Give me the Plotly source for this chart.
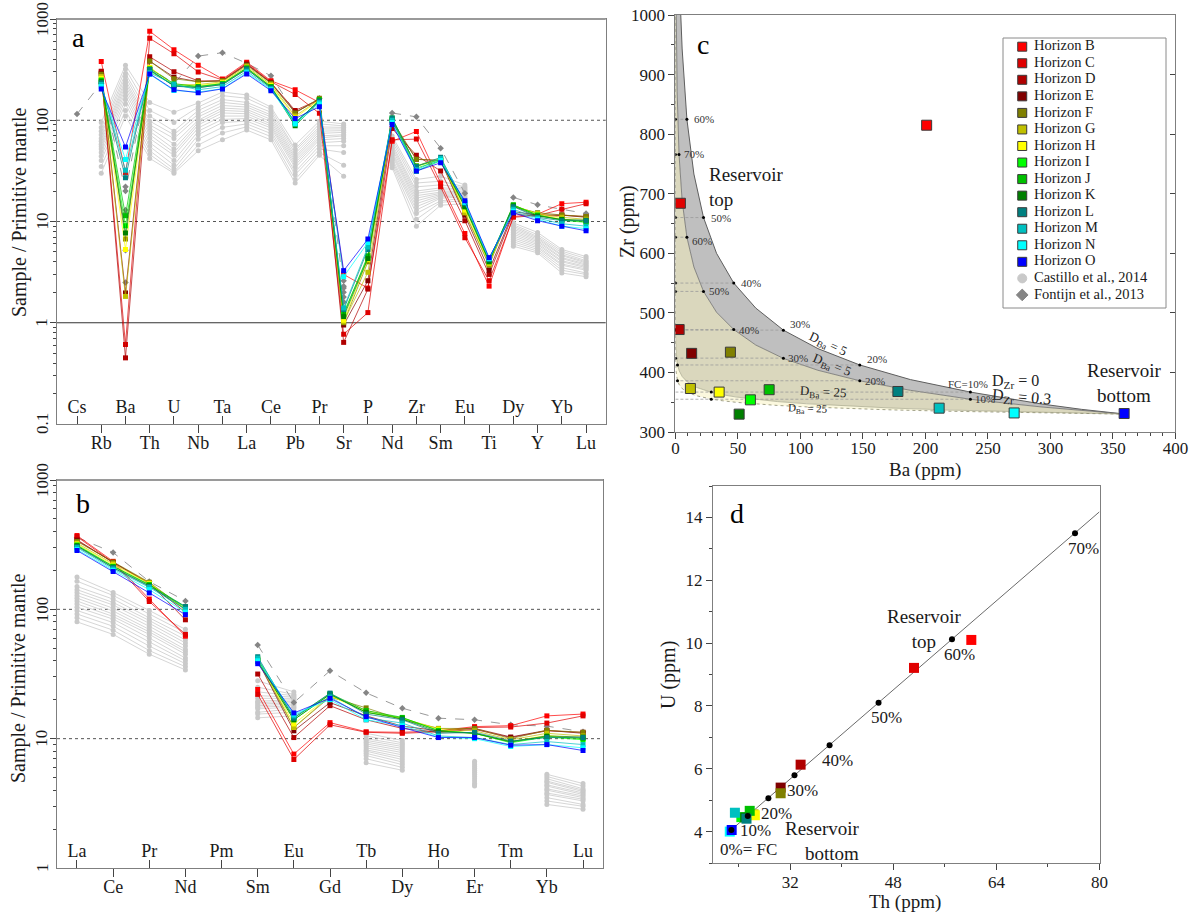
import math
import plotly.graph_objects as go

W, H = 1191, 912
SERIF = "Liberation Serif"
INK = "#1a1a1a"
AXIS_LINE = "#7f7f7f"
TICK_COL = "#444444"

# ---------------- element order of the spider diagrams ----------------
elements_a = ["Cs", "Rb", "Ba", "Th", "U", "Nb", "Ta", "La", "Ce", "Pb", "Pr",
              "Sr", "P", "Nd", "Zr", "Sm", "Eu", "Ti", "Dy", "Y", "Yb", "Lu"]
elements_b = ["La", "Ce", "Pr", "Nd", "Pm", "Sm", "Eu", "Gd", "Tb", "Dy", "Ho",
              "Er", "Tm", "Yb", "Lu"]
decades_a = [0.1, 1, 10, 100, 1000]
decades_b = [1, 10, 100, 1000]

horizon_names = ["Horizon " + h for h in "BCDEFGHIJKLMNO"]
horizon_colors = ["#FF0000", "#E00000", "#B00000", "#800000", "#808000", "#C0C000", "#FFFF00",
                  "#00FF00", "#00C000", "#008000", "#008080", "#00C0C0", "#00FFFF", "#0000FF"]

# ---------------- primitive-mantle normalised trace elements (panel a) ----------------
a_B = [None, 380, 30.5, 756, 498, 350, 255, 375, 245, 200, 150, 3.0, 2.2, 62, 77.6, 24, 7.6, 2.3, 11.2, 11.8, 15.0, 15.5]
a_C = [None, 300, 0.61, 644, 454, 300, 250, 365, 240, 180, 117, 0.77, 1.26, 64, 65.1, 22, 6.9, 2.6, 11.0, 11.5, 13.2, 15.0]
a_D = [None, 305, 0.45, 423, 302, 245, 245, 360, 235, 125, 160, 0.64, 2.15, 83, 45.0, 31.6, 10.2, 3.0, 12.0, 11.2, 11.5, 11.2]
a_E = [None, 290, 1.97, 384, 266, 240, 245, 355, 235, 120, 160, 0.95, 2.6, 95, 41.1, 40, 11.5, 3.3, 12.5, 11.6, 11.6, 11.0]
a_F = [None, 285, 6.7, 384, 257, 240, 245, 350, 232, 118, 165, 1.0, 4.0, 100, 41.3, 40, 12.2, 3.7, 14.0, 12.2, 11.6, 11.2]
a_G = [None, 270, 1.82, 331, 224, 225, 240, 340, 225, 110, 160, 1.02, 3.15, 100, 35.5, 42, 12.2, 3.8, 14.3, 12.0, 11.0, 10.5]
a_H = [None, 260, 5.3, 333, 223, 220, 235, 330, 220, 105, 160, 1.06, 4.2, 100, 35.0, 41, 13.0, 3.9, 14.4, 11.8, 10.6, 10.0]
a_I = [None, 250, 9.1, 307, 220, 215, 230, 325, 215, 95, 155, 1.25, 4.4, 103, 33.7, 40, 14.0, 4.0, 14.5, 11.6, 10.3, 9.8]
a_J = [None, 245, 11.4, 323, 230, 215, 230, 330, 215, 92, 160, 1.2, 4.6, 105, 35.3, 41, 14.5, 4.1, 14.6, 11.5, 10.4, 10.0]
a_K = [None, 240, 7.7, 314, 219, 210, 225, 320, 210, 88, 155, 1.15, 4.3, 100, 31.4, 40, 14.0, 4.0, 14.2, 11.3, 10.5, 10.3]
a_L = [None, 235, 27.0, 317, 217, 210, 225, 320, 210, 95, 155, 1.35, 5.3, 105, 35.0, 43, 15.0, 4.2, 14.0, 11.0, 10.2, 10.2]
a_M = [None, 225, 32.0, 294, 227, 200, 215, 305, 205, 95, 150, 1.4, 5.6, 100, 32.4, 42, 15.5, 4.3, 13.2, 10.8, 9.5, 9.0]
a_N = [None, 215, 41.0, 284, 197, 190, 205, 295, 200, 92, 145, 2.85, 6.2, 95, 31.6, 40, 15.5, 4.3, 12.6, 10.5, 9.0, 8.5]
a_O = [None, 204, 54.4, 287, 200, 187, 204, 287, 196, 104, 136, 3.27, 6.7, 91, 31.5, 38, 16.0, 4.4, 12.2, 10.2, 9.0, 8.1]
spider_a = [a_B, a_C, a_D, a_E, a_F, a_G, a_H, a_I, a_J, a_K, a_L, a_M, a_N, a_O]

# ---------------- primitive-mantle normalised REE (panel b) ----------------
b_B = [372, 235, 120, 62, None, 24, 7.6, 13.3, 11.3, 11.2, 11.5, 12.4, 12.6, 15.0, 15.5]
b_C = [365, 230, 115, 64, None, 22, 6.9, 12.8, 11.2, 11.0, 11.3, 12.2, 12.3, 13.2, 15.0]
b_D = [345, 230, 160, 83, None, 31.6, 10.2, 18.0, 14.0, 12.0, 11.2, 11.8, 10.2, 11.5, 11.2]
b_E = [340, 230, 158, 95, None, 40, 11.5, 19.0, 15.0, 12.5, 11.5, 12.0, 10.3, 11.6, 11.0]
b_F = [335, 232, 162, 100, None, 40, 12.2, 21.0, 17.3, 14.0, 12.0, 12.0, 10.0, 11.6, 11.2]
b_G = [325, 225, 160, 100, None, 42, 12.2, 21.5, 16.5, 14.3, 12.0, 11.5, 9.8, 11.0, 10.5]
b_H = [320, 220, 158, 100, None, 41, 13.0, 21.5, 16.0, 14.4, 11.8, 11.0, 9.5, 10.6, 10.0]
b_I = [315, 215, 155, 103, None, 40, 14.0, 22.0, 16.0, 14.5, 11.6, 11.0, 9.3, 10.3, 9.8]
b_J = [310, 215, 155, 105, None, 41, 14.5, 22.3, 16.5, 14.6, 11.5, 11.0, 9.4, 10.4, 10.0]
b_K = [310, 210, 152, 100, None, 40, 14.0, 22.0, 16.0, 14.2, 11.3, 11.0, 9.5, 10.5, 10.3]
b_L = [305, 210, 150, 105, None, 43, 14.4, 22.5, 15.5, 14.0, 11.0, 11.2, 9.6, 10.2, 10.2]
b_M = [300, 205, 148, 100, None, 42, 15.0, 21.0, 14.5, 13.2, 10.5, 10.2, 9.0, 9.5, 9.0]
b_N = [290, 200, 142, 95, None, 40, 15.5, 20.0, 14.0, 12.6, 10.3, 10.0, 8.7, 9.0, 8.5]
b_O = [285, 196, 134, 91, None, 38, 15.8, 20.5, 14.8, 12.2, 10.2, 10.2, 8.9, 9.0, 8.1]
spider_b = [b_B, b_C, b_D, b_E, b_F, b_G, b_H, b_I, b_J, b_K, b_L, b_M, b_N, b_O]

# ---------------- Castillo et al. (2014), one value per sample ----------------
cas_Rb = [95, 85, 78, 72, 66, 62, 58, 55, 52, 48, 44, 40, 35, 30]
cas_Ba = [350, 320, 290, 270, 250, 235, 220, 205, 190, 175, 160, 145, 125, 110]
cas_Th = [150, 125, 110, 98, 90, 84, 78, 72, 66, 60, 55, 50, 46, 42]
cas_U = [120, 95, 78, 72, 66, 58, 52, 48, 45, 40, 36, 33, 31, 30]
cas_Nb = [148, 135, 125, 115, 108, 100, 95, 90, 84, 78, 72, 65, 57, 50]
cas_Ta = [190, 175, 160, 150, 140, 132, 125, 118, 110, 102, 95, 85, 75, 64]
cas_La = [178, 165, 150, 142, 135, 128, 122, 116, 110, 104, 98, 92, 86, 80]
cas_Ce = [135, 128, 120, 113, 108, 102, 97, 92, 88, 84, 79, 74, 69, 64]
cas_Pb = [57, 52, 50, 47, 44, 42, 40, 38, 36, 34, 31, 29, 26, 24]
cas_Pr = [98, 92, 86, 82, 78, 74, 70, 67, 64, 60, 56, 52, 48, 45]
cas_Sr = [92, 88, 85, 82, 79, 76, 72, 70, 66, 62, 56, 48, 36, 28]
cas_Nd = [70, 66, 62, 58, 55, 52, 49, 47, 45, 42, 40, 38, 36, 34]
cas_Zr = [26, 24, 22, 20, 19, 18, 17, 16, 15, 14, 13, 12, 10.5, 9]
cas_Sm = [28, 25, 23, 21.5, 20.5, 19.5, 19, 18.5, 18, 17.5, 17, 16, 15.5, 14.5]
cas_Eu = [23, 22, 21.5, 21, 20.5, 20, 19.5, 19, 18.5, 18, 17.5, 17, 16, 15]
cas_Tb = [11, 10.5, 10, 9.7, 9.4, 9.1, 8.8, 8.5, 8.2, 8.0, 7.7, 7.4, 7.0, 6.5]
cas_Dy = [9.7, 9.3, 9.0, 8.7, 8.4, 8.1, 7.8, 7.5, 7.2, 6.9, 6.6, 6.3, 6.0, 5.7]
cas_Y = [7.8, 7.4, 7.1, 6.9, 6.7, 6.5, 6.3, 6.1, 5.9, 5.7, 5.5, 5.3, 5.1, 4.9]
cas_Er = [6.7, 6.5, 6.3, 6.1, 5.9, 5.7, 5.5, 5.3, 5.1, 4.9, 4.7, 4.5, 4.4, 4.3]
cas_Yb = [5.3, 5.1, 4.9, 4.7, 4.6, 4.4, 4.3, 4.1, 4.0, 3.8, 3.7, 3.5, 3.3, 3.1]
cas_Lu = [4.5, 4.3, 4.1, 4.0, 3.9, 3.8, 3.7, 3.6, 3.5, 3.4, 3.3, 3.1, 3.0, 2.85]

# ---------------- Fontijn et al. (2013) ----------------
fon_a = [115, 232, 20, 330, 230, 430, 465, 365, 275, 118, 165, 2.2, None, 118, 108, 53, 19, None, 17.3, 14.6, 13.2, 12.0]
fon_b = [360, 275, 164, 116, None, 53, 19, 33.5, 22.6, 17.2, 14.4, 14.0, 12.8, 12.5, 11.3]
# further Fontijn et al. analyses with Ba and Sr only
fon_extra_Ba = [22, 13, 12, 5.2, 2.5]
fon_extra_Sr = [2.6, 2.3, 2.0, 1.8, 1.6]

# ---------------- panel c: Ba vs Zr (ppm) ----------------
ba_ppm = [201, 4, 3, 13, 44, 12, 35, 60, 75, 51, 178, 211, 271, 359]
zr_ppm = [815, 684, 472, 432, 434, 373, 367, 354, 371, 330, 368, 340, 332, 331]

# fractional crystallisation paths from the reservoir bottom
fc_pct = [10, 20, 30, 40, 50, 60, 70]
lvl_ba_d5 = [236, 147.5, 86.4, 46.7, 22.5, 9.2, 2.9]
lvl_ba_d25 = [28.7, 1.7, 0.07, 0.0, 0.0, 0.0, 0.0]
lvl_zr_d0 = [367, 412.5, 471, 550, 660, 825, 1100]
lvl_zr_d03 = [355, 386, 424, 472, 536, 627, 766]

path_d5_zr0_ba = [360, 325, 293, 264, 236, 188, 147.5, 114, 86.4, 64.3, 46.7, 32.9, 22.5, 14.8, 9.2, 5.4, 4.3]
path_d5_zr0_zr = [330, 338, 347, 357, 367, 388, 412.5, 440, 471, 508, 550, 600, 660, 733, 825, 943, 1000]
path_d5_zr03_ba = [360, 325, 293, 264, 236, 188, 147.5, 114, 86.4, 64.3, 46.7, 32.9, 22.5, 14.8, 9.2, 5.4, 2.9, 1.4, 0.6]
path_d5_zr03_zr = [330, 336, 342, 348.5, 355, 370, 386, 403.6, 423.6, 446, 472, 501, 536, 577, 627, 688, 766, 871, 1018]
path_d25_zr0_ba = [360, 283, 222, 173, 135, 105, 81.5, 63, 48.7, 37.4, 28.7, 16.7, 9.6, 5.5, 3.1, 1.7, 0.36, 0.07, 0, 0]
path_d25_zr0_zr = [330, 333.3, 336.7, 340.2, 343.8, 347.4, 351.1, 354.8, 358.7, 362.6, 366.7, 375, 383.7,
                   392.9, 402.4, 412.5, 440, 471, 660, 1000]
path_d25_zr03_ba = [360, 283, 222, 173, 135, 105, 81.5, 63, 48.7, 37.4, 28.7, 16.7, 9.6, 5.5, 3.1, 1.7, 0.36, 0.07, 0, 0]
path_d25_zr03_zr = [330, 332.3, 334.7, 337.1, 339.6, 342.1, 344.6, 347.2, 349.8, 352.5, 355.2, 360.9, 366.7,
                    372.8, 379.2, 385.8, 403.6, 423.6, 536, 1018]

# ---------------- panel d: Th vs U (ppm) ----------------
th_ppm = [60.1, 51.2, 33.6, 30.5, 30.5, 26.3, 26.5, 24.4, 25.7, 25.0, 25.2, 23.4, 22.6, 22.9]
u_ppm = [10.1, 9.21, 6.13, 5.4, 5.22, 4.55, 4.52, 4.46, 4.66, 4.45, 4.41, 4.6, 4.0, 4.05]
model_th = [22.85, 25.4, 28.6, 32.65, 38.1, 45.7, 57.1, 76.2]
model_u = [4.05, 4.5, 5.06, 5.79, 6.75, 8.1, 10.12, 13.5]
model_labels = ["0%= FC", "10%", "20%", "30%", "40%", "50%", "60%", "70%"]
trend_th = [22.3, 80.0]
trend_u = [3.96, 14.18]


def px_x(p):
    return p / W


def px_y(p):
    return 1 - p / H


def rgba(hex_col, a):
    h = hex_col.lstrip("#")
    return "rgba(%d,%d,%d,%.2f)" % (int(h[0:2], 16), int(h[2:4], 16), int(h[4:6], 16), a)


def tfont(size, color=INK):
    return dict(family=SERIF, size=size, color=color)


fig = go.Figure()

# ================= spider diagrams (a, b) =================
cas_rows_a = []
cas_rows_b = []
for i in range(len(cas_Rb)):
    cas_rows_a.append([None, cas_Rb[i], cas_Ba[i], cas_Th[i], cas_U[i], cas_Nb[i], cas_Ta[i], cas_La[i],
                       cas_Ce[i], cas_Pb[i], cas_Pr[i], cas_Sr[i], None, cas_Nd[i], cas_Zr[i], cas_Sm[i],
                       cas_Eu[i], None, cas_Dy[i], cas_Y[i], cas_Yb[i], cas_Lu[i]])
    cas_rows_b.append([cas_La[i], cas_Ce[i], cas_Pr[i], cas_Nd[i], None, cas_Sm[i], cas_Eu[i], None,
                       cas_Tb[i], cas_Dy[i], None, cas_Er[i], None, cas_Yb[i], cas_Lu[i]])

for rows, fon, elements, xa, ya in [(cas_rows_a, fon_a, elements_a, "x", "y"),
                                    (cas_rows_b, fon_b, elements_b, "x3", "y3")]:
    idx = list(range(len(elements)))
    for row in rows:
        fig.add_trace(go.Scatter(x=idx, y=row, mode="lines+markers", xaxis=xa, yaxis=ya,
                                 line=dict(color="#d6d6d6", width=1),
                                 marker=dict(symbol="circle", size=5, color="#c9c9c9"),
                                 connectgaps=False, showlegend=False, hoverinfo="skip"))
    fig.add_trace(go.Scatter(x=idx, y=fon, mode="lines+markers", xaxis=xa, yaxis=ya,
                             line=dict(color="#9a9a9a", width=1, dash="dash"),
                             marker=dict(symbol="diamond", size=5, color="#858585"),
                             connectgaps=False, showlegend=False, hoverinfo="skip"))

i_ba = elements_a.index("Ba")
i_sr = elements_a.index("Sr")
fig.add_trace(go.Scatter(x=[i_ba] * len(fon_extra_Ba) + [i_sr] * len(fon_extra_Sr),
                         y=fon_extra_Ba + fon_extra_Sr, mode="markers", xaxis="x", yaxis="y",
                         marker=dict(symbol="diamond", size=5, color="#858585"),
                         showlegend=False, hoverinfo="skip"))

for spider, elements, xa, ya in [(spider_a, elements_a, "x", "y"), (spider_b, elements_b, "x3", "y3")]:
    idx = list(range(len(elements)))
    for vals, col, name in zip(spider, horizon_colors, horizon_names):
        fig.add_trace(go.Scatter(x=idx, y=vals, mode="lines+markers", xaxis=xa, yaxis=ya, name=name,
                                 line=dict(color=rgba(col, 0.7), width=1),
                                 marker=dict(symbol="square", size=5, color=col),
                                 connectgaps=False, showlegend=False))

# empty traces so the overlay axes are bound to a subplot
fig.add_trace(go.Scatter(x=[None], y=[None], xaxis="x2", yaxis="y", showlegend=False))
fig.add_trace(go.Scatter(x=[None], y=[None], xaxis="x4", yaxis="y3", showlegend=False))

# ================= panel c =================
fills = [
    (path_d5_zr0_ba + path_d5_zr03_ba[::-1], path_d5_zr0_zr + path_d5_zr03_zr[::-1], "#bfbfbf"),
    (path_d5_zr03_ba + path_d25_zr0_ba[::-1], path_d5_zr03_zr + path_d25_zr0_zr[::-1], "#dad7bd"),
    (path_d25_zr0_ba + path_d25_zr03_ba[::-1], path_d25_zr0_zr + path_d25_zr03_zr[::-1], "#fbf8de"),
]
for fx, fy, col in fills:
    fig.add_trace(go.Scatter(x=fx, y=fy, mode="lines", fill="toself", fillcolor=col,
                             line=dict(width=0), xaxis="x5", yaxis="y5", showlegend=False,
                             hoverinfo="skip"))

for bx, bz, col, wd, dash in [(path_d5_zr0_ba, path_d5_zr0_zr, "#5e5e5e", 1.0, "solid"),
                              (path_d5_zr03_ba, path_d5_zr03_zr, "#6e6e6e", 0.8, "solid"),
                              (path_d25_zr0_ba, path_d25_zr0_zr, "#a5a58a", 0.7, "solid"),
                              (path_d25_zr03_ba, path_d25_zr03_zr, "#8a8a70", 0.8, "dot")]:
    fig.add_trace(go.Scatter(x=bx, y=bz, mode="lines", line=dict(color=col, width=wd, dash=dash),
                             xaxis="x5", yaxis="y5", showlegend=False, hoverinfo="skip"))

# dashed iso-crystallisation lines and their nodes
for k in range(len(fc_pct)):
    for zr in (lvl_zr_d0[k], lvl_zr_d03[k]):
        fig.add_trace(go.Scatter(x=[0, lvl_ba_d5[k]], y=[zr, zr], mode="lines",
                                 line=dict(color="#9a9a9a", width=0.8, dash="3px,2px"),
                                 xaxis="x5", yaxis="y5", showlegend=False, hoverinfo="skip"))
node_x = lvl_ba_d5 + lvl_ba_d5 + lvl_ba_d25 + lvl_ba_d25
node_y = lvl_zr_d0 + lvl_zr_d03 + lvl_zr_d0 + lvl_zr_d03
fig.add_trace(go.Scatter(x=node_x, y=node_y, mode="markers", marker=dict(color="black", size=3),
                         xaxis="x5", yaxis="y5", showlegend=False, cliponaxis=True))

fig.add_trace(go.Scatter(x=ba_ppm, y=zr_ppm, mode="markers", xaxis="x5", yaxis="y5",
                         marker=dict(symbol="square", size=10, color=horizon_colors,
                                     line=dict(color="#3a3a3a", width=1)),
                         text=horizon_names, showlegend=False))
fig.add_trace(go.Scatter(x=[None], y=[None], xaxis="x5", yaxis="y8", showlegend=False))

# ================= panel d =================
fig.add_trace(go.Scatter(x=trend_th, y=trend_u, mode="lines", line=dict(color="#6a6a6a", width=1),
                         xaxis="x6", yaxis="y6", showlegend=False, hoverinfo="skip"))
fig.add_trace(go.Scatter(x=th_ppm, y=u_ppm, mode="markers", xaxis="x6", yaxis="y6",
                         marker=dict(symbol="square", size=10, color=horizon_colors, line=dict(width=0)),
                         text=horizon_names, showlegend=False))
fig.add_trace(go.Scatter(x=model_th, y=model_u, mode="markers", xaxis="x6", yaxis="y6",
                         marker=dict(color="black", size=6), showlegend=False))

# ================= legend (inside panel c) =================
legend_labels = horizon_names + ["Castillo et al., 2014", "Fontijn et al., 2013"]
legend_symbols = ["square"] * len(horizon_names) + ["circle", "diamond"]
legend_colors = horizon_colors + ["#c9c9c9", "#858585"]
legend_lines = ["#3a3a3a"] * len(horizon_names) + ["#c9c9c9", "#858585"]
legend_rows = list(range(len(legend_labels)))
fig.add_trace(go.Scatter(x=[0.118] * len(legend_rows), y=legend_rows, mode="markers",
                         xaxis="x7", yaxis="y7", showlegend=False, hoverinfo="skip",
                         marker=dict(symbol=legend_symbols, size=9, color=legend_colors,
                                     line=dict(color=legend_lines, width=1))))
fig.add_trace(go.Scatter(x=[0.19] * len(legend_rows), y=legend_rows, mode="text",
                         text=legend_labels, textposition="middle right",
                         textfont=tfont(14.5), xaxis="x7", yaxis="y7", showlegend=False,
                         hoverinfo="skip"))

# ================= axes =================
ra = [-0.825, 21.81]
rb = [-0.553, 14.553]


def spider_axes(elements, domain, rng, anchor, base):
    idx = list(range(len(elements)))
    below = dict(domain=domain, range=rng, anchor=anchor, tickmode="array",
                 tickvals=idx[1::2], ticktext=elements[1::2], ticks="outside", ticklen=8,
                 ticklabelstandoff=-6, automargin=False,
                 tickcolor=TICK_COL, showline=True, linecolor=AXIS_LINE, mirror=True,
                 showgrid=False, zeroline=False, tickfont=tfont(18))
    above = dict(overlaying=base, anchor=anchor, range=rng, tickmode="array",
                 tickvals=idx[0::2], ticktext=elements[0::2], ticks="inside", ticklen=8,
                 ticklabelposition="inside", automargin=False, tickcolor=TICK_COL, showline=False,
                 showgrid=False, zeroline=False, tickfont=tfont(18))
    return below, above


def log_axis(domain, rng, anchor):
    # labels are written as rotated annotations further below
    return dict(domain=domain, type="log", range=rng, anchor=anchor, dtick=1,
                showticklabels=False, ticks="outside", ticklen=6, tickcolor=TICK_COL,
                automargin=False,
                minor=dict(ticks="outside", ticklen=3, tickcolor=TICK_COL, dtick="D1"),
                showline=True, linecolor=AXIS_LINE, mirror=True, showgrid=False,
                zeroline=False)


xa_below, xa_above = spider_axes(elements_a, [px_x(57), px_x(605.7)], ra, "y", "x")
xb_below, xb_above = spider_axes(elements_b, [px_x(57), px_x(603)], rb, "y3", "x3")

lin_common = dict(showline=True, linecolor=AXIS_LINE, mirror=True, showgrid=False, zeroline=False,
                  ticks="outside", ticklen=6, tickcolor=TICK_COL, tickfont=tfont(17),
                  automargin=False)

fig.update_layout(
    width=W, height=H, margin=dict(l=0, r=0, t=0, b=0, autoexpand=False),
    paper_bgcolor="white", plot_bgcolor="rgba(0,0,0,0)", showlegend=False,
    font=dict(family=SERIF, color=INK),
    xaxis=xa_below, xaxis2=xa_above,
    yaxis=log_axis([px_y(424), px_y(19)], [-1, 3], "x"),
    xaxis3=xb_below, xaxis4=xb_above,
    yaxis3=log_axis([px_y(868), px_y(480)], [0, 3], "x3"),
    xaxis5=dict(domain=[px_x(675.4), px_x(1175.4)], range=[0, 400], anchor="y5", dtick=50,
                ticklabelstandoff=-5,
                minor=dict(ticks="outside", ticklen=3, dtick=10, tickcolor=TICK_COL), **lin_common),
    yaxis5=dict(domain=[px_y(432), px_y(15)], range=[300, 1000], anchor="x5", dtick=100,
                minor=dict(ticks="outside", ticklen=3, dtick=50, tickcolor=TICK_COL), **lin_common),
    yaxis8=dict(overlaying="y5", side="right", anchor="x5", range=[300, 1000], dtick=100,
                ticks="inside", ticklen=5, tickcolor=TICK_COL, showticklabels=False,
                showline=False, showgrid=False, zeroline=False, automargin=False),
    xaxis6=dict(domain=[px_x(713), px_x(1099.5)], range=[20, 80], anchor="y6", tick0=0, dtick=16,
                ticklabelstandoff=-2,
                minor=dict(ticks="outside", ticklen=3, dtick=8, tickcolor=TICK_COL), **lin_common),
    yaxis6=dict(domain=[px_y(863), px_y(486)], range=[3, 15], anchor="x6", dtick=2,
                minor=dict(ticks="outside", ticklen=3, dtick=1, tickcolor=TICK_COL), **lin_common),
    xaxis7=dict(domain=[px_x(1003), px_x(1166)], range=[0, 1], anchor="y7", visible=False,
                automargin=False),
    yaxis7=dict(domain=[px_y(308), px_y(38)], range=[15.79, -0.526], anchor="x7", visible=False,
                automargin=False),
)

# reference lines of the spider diagrams and the legend frame
shapes = []
for yv, dash, col in [(100, "dot", "#555555"), (10, "dot", "#555555"), (1, "solid", "#333333")]:
    shapes.append(dict(type="line", xref="x domain", yref="y", x0=0, x1=1, y0=yv, y1=yv,
                       line=dict(color=col, width=1, dash=dash), layer="below"))
for yv in (100, 10):
    shapes.append(dict(type="line", xref="x3 domain", yref="y3", x0=0, x1=1, y0=yv, y1=yv,
                       line=dict(color="#555555", width=1, dash="dot"), layer="below"))
# heavier top frame of the spider panels
for xr, yr in [("x domain", "y domain"), ("x3 domain", "y3 domain")]:
    shapes.append(dict(type="line", xref=xr, yref=yr, x0=0, x1=1, y0=1, y1=1,
                       line=dict(color="#9a9a9a", width=2)))
shapes.append(dict(type="rect", xref="x7 domain", yref="y7 domain", x0=0, x1=1, y0=0, y1=1,
                   line=dict(color="#8a8a8a", width=1), fillcolor="white", layer="below"))
fig.update_layout(shapes=shapes)

ann = []
# rotated decade labels of the log axes
for decades, yref in [(decades_a, "y"), (decades_b, "y3")]:
    for v in decades:
        ann.append(dict(text="%g" % v, x=px_x(42), y=math.log10(v), xref="paper", yref=yref,
                        xanchor="center", yanchor="middle", showarrow=False, textangle=-90,
                        font=tfont(17)))
# panel letters
for letter, xp, yp in [("a", 78, 37), ("b", 83, 503), ("c", 703, 45), ("d", 737, 513)]:
    ann.append(dict(text=letter, x=px_x(xp), y=px_y(yp), xref="paper", yref="paper",
                    xanchor="center", yanchor="middle", showarrow=False, font=tfont(28, "black")))
# axis titles
for txt, xp, yp, ang, size in [("Sample / Primitive mantle", 20, 212, -90, 20),
                               ("Sample / Primitive mantle", 18, 678, -90, 20),
                               ("Zr (ppm)", 627, 222, -90, 20), ("Ba (ppm)", 925, 470, 0, 19),
                               ("U (ppm)", 668, 675, -90, 20), ("Th (ppm)", 905, 902, 0, 19)]:
    ann.append(dict(text=txt, x=px_x(xp), y=px_y(yp), xref="paper", yref="paper",
                    xanchor="center", yanchor="middle", showarrow=False, textangle=ang,
                    font=tfont(size)))

# panel c: crystallisation labels
for k, pct in enumerate(fc_pct):
    if lvl_zr_d0[k] <= 1000:
        if pct == 10:
            ann.append(dict(text="FC=10%", x=lvl_ba_d5[k], y=lvl_zr_d0[k], xref="x5", yref="y5",
                            showarrow=False, xanchor="center", yshift=8, xshift=-2,
                            font=tfont(11, "#333")))
        else:
            ann.append(dict(text="%d%%" % pct, x=lvl_ba_d5[k], y=lvl_zr_d0[k], xref="x5", yref="y5",
                            showarrow=False, xanchor="left", xshift=5,
                            yshift=6 if pct in (20, 30) else 0, font=tfont(11, "#333")))
    ann.append(dict(text="%d%%" % pct, x=lvl_ba_d5[k], y=lvl_zr_d03[k], xref="x5", yref="y5",
                    showarrow=False, xanchor="left", xshift=3, yshift=-4 if pct == 60 else 0,
                    font=tfont(11, "#333")))
for txt, xv, yv, ang, size in [("D<sub>Ba</sub> = 5", 122, 447, 25, 13),
                               ("D<sub>Ba</sub> = 5", 125, 412, 22, 13),
                               ("D<sub>Ba</sub> = 25", 118, 366, 3, 13),
                               ("D<sub>Ba</sub> = 25", 106, 338, 2, 11),
                               ("D<sub>Zr</sub> = 0", 272, 385, 0, 16),
                               ("D<sub>Zr</sub> = 0.3", 277, 358, 5, 16)]:
    ann.append(dict(text=txt, x=xv, y=yv, xref="x5", yref="y5", showarrow=False,
                    textangle=ang, font=tfont(size, "#222")))
ann.append(dict(text="Reservoir<br>top", x=25, y=712, xref="x5", yref="y5", showarrow=False,
                xanchor="left", align="left", font=tfont(19)))
ann.append(dict(text="Reservoir<br>bottom", x=359, y=383, xref="x5", yref="y5", showarrow=False,
                xanchor="center", align="center", font=tfont(19)))

# panel d: crystallisation labels
for lab, tx, uy in zip(model_labels, model_th, model_u):
    if lab.startswith("0%"):
        ann.append(dict(text=lab, x=tx, y=uy, xref="x6", yref="y6", showarrow=False,
                        xshift=17, yshift=-19, font=tfont(17)))
    else:
        ann.append(dict(text=lab, x=tx, y=uy, xref="x6", yref="y6", showarrow=False,
                        xshift=8, yshift=-15, font=tfont(17)))
ann.append(dict(text="Reservoir<br>top", x=52.8, y=10.45, xref="x6", yref="y6", showarrow=False,
                align="center", font=tfont(19)))
ann.append(dict(text="Reservoir<br>bottom", x=43.1, y=3.71, xref="x6", yref="y6", showarrow=False,
                xanchor="right", align="right", font=tfont(19)))

fig.update_layout(annotations=ann)

fig.write_html("out.html")
